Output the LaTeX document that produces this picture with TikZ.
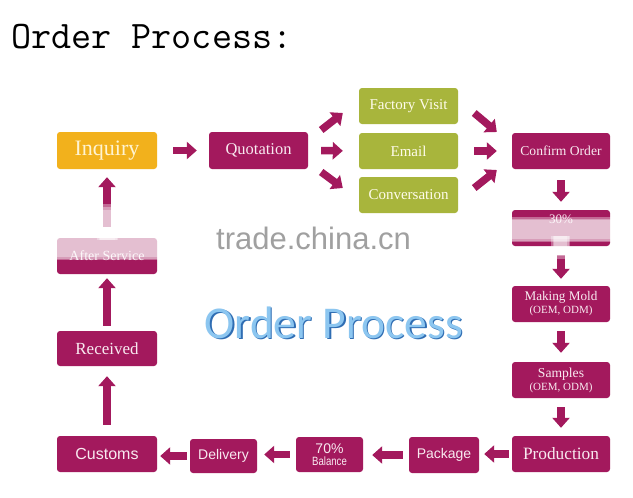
\documentclass[tikz,border=0pt]{standalone}
\usepackage{fontspec}
\setmainfont{Liberation Serif}
\setsansfont{Liberation Sans}
\newfontfamily\wmfont{Carlito}
\usetikzlibrary{arrows.meta}
\definecolor{mag}{HTML}{A3195D}
\definecolor{orng}{HTML}{F2B11C}
\definecolor{olv}{HTML}{A8B53C}
\definecolor{txtm}{HTML}{F8EAF0}
\definecolor{cream}{HTML}{FFFCEB}
\definecolor{inqtxt}{HTML}{FFF4D2}
\definecolor{wmgray}{HTML}{A0A0A0}
\definecolor{bluedk}{HTML}{2F6DB3}
\definecolor{bluelt}{HTML}{8CC6F0}
\tikzset{
  box/.style={rectangle, rounded corners=3pt, fill=mag, text=txtm, inner sep=0pt,
    minimum width=98pt, minimum height=36pt, align=center,
    font=\fontsize{15}{16}\selectfont},
  gbox/.style={box, fill=olv, text=cream},
  sbox/.style={box, font=\sffamily\fontsize{14}{15}\selectfont},
  blk/.style={draw=mag, line width=7.5pt, -{Triangle[length=10pt,width=17pt]}},
  fog/.style={fill=white, draw=none, opacity=0.35},
}
\begin{document}
\begin{tikzpicture}[x=1pt,y=1pt]
\path[use as bounding box, fill=white] (0,0) rectangle (633,-498);

% title
\node[anchor=base west, inner sep=0pt, font=\ttfamily\fontsize{39}{40}\selectfont] (title) at (11,-48) {Order Process:};

% top row
\node[box, fill=orng, text=inqtxt, minimum width=100pt, minimum height=37pt,
  font=\fontsize{22}{22}\selectfont] (inq) at (107,-150.5) {Inquiry};
\node[box, minimum width=99pt, minimum height=37pt, font=\fontsize{16.5}{17}\selectfont] (quo) at (258.5,-150.5) {Quotation};
\node[gbox, minimum width=99pt] (fv) at (408.5,-106) {Factory Visit};
\node[gbox, minimum width=99pt] (em) at (408.5,-151) {Email};
\node[gbox, minimum width=99pt] (conv) at (408.5,-195) {Conversation};
\node[box, font=\fontsize{13.6}{14}\selectfont] (co) at (561,-151) {Confirm Order};

% right column
\node[box] (p30) at (561,-228) {};
\node[inner sep=0pt, text=txtm, font=\fontsize{13}{13}\selectfont] (p30t) at (561,-219) {30\%};
\node[box, font=\fontsize{13.2}{14}\selectfont] (mold) at (561,-304) {Making Mold\\[-1pt]{\fontsize{11}{12}\selectfont (OEM, ODM)}};
\node[box, font=\fontsize{13.6}{14}\selectfont] (samp) at (561,-380) {Samples\\[-1pt]{\fontsize{11}{12}\selectfont (OEM, ODM)}};
\node[box, font=\fontsize{17.3}{18}\selectfont] (prod) at (561,-454) {Production};

% bottom row
\node[sbox, minimum width=70pt] (pack) at (444,-455) {Package};
\node[sbox, minimum width=67pt, minimum height=35pt] (bal) at (329.5,-454.5)
  {{\fontsize{14}{13}\selectfont 70\%}\\[-3pt]{\fontsize{12}{12}\selectfont\scalebox{0.8}[1]{Balance}}};
\node[sbox, minimum width=67pt, minimum height=34pt] (del) at (223.5,-456) {Delivery};
\node[sbox, minimum width=100pt, font=\sffamily\fontsize{16}{16}\selectfont] (cust) at (107,-454) {Customs};

% left column
\node[box, minimum width=100pt, minimum height=35pt, font=\fontsize{17}{17}\selectfont] (rec) at (107,-348.5) {Received};
\node[box, minimum width=100pt, font=\fontsize{14}{14}\selectfont] (aft) at (107,-256) {After Service};

% arrows: top row
\draw[blk, shorten <=16pt, shorten >=12pt] (inq) -- (quo);
\draw[blk] ([shift={(13pt,20.5pt)}]quo.east) -- ([shift={(-16pt,-7pt)}]fv.west);
\draw[blk, shorten <=13pt, shorten >=16pt] (quo.east) -- (em.west);
\draw[blk] ([shift={(13pt,-21.5pt)}]quo.east) -- ([shift={(-16pt,7pt)}]conv.west);
\draw[blk] ([shift={(16pt,-7pt)}]fv.east) -- ([shift={(-15pt,19pt)}]co.west);
\draw[blk, shorten <=16pt, shorten >=15pt] (em.east) -- (co.west);
\draw[blk] ([shift={(16pt,7pt)}]conv.east) -- ([shift={(-15pt,-19pt)}]co.west);

% arrows: right column
\draw[blk, shorten <=11pt, shorten >=8pt] (co.south) -- (p30.north);
\draw[blk, shorten <=9pt, shorten >=7pt] (p30.south) -- (mold.north);
\draw[blk, shorten <=9pt, shorten >=9pt] (mold.south) -- (samp.north);
\draw[blk, shorten <=9pt, shorten >=8pt] (samp.south) -- (prod.north);

% arrows: bottom row
\draw[blk, shorten <=3pt, shorten >=5pt] (prod.west) -- (prod.west -| pack.east);
\draw[blk, shorten <=6pt, shorten >=9pt] (pack.west) -- (pack.west -| bal.east);
\draw[blk, shorten <=6pt, shorten >=7pt] (bal.west) -- (bal.west -| del.east);
\draw[blk, shorten <=3pt, shorten >=3pt] (del.west) -- (del.west -| cust.east);

% arrows: left column
\draw[blk, shorten <=11pt, shorten >=10pt] (cust.north) -- (rec.south);
\draw[blk, shorten <=5pt, shorten >=4pt] (rec.north) -- (aft.south);
\draw[blk, shorten <=11pt, shorten >=8pt] (aft.north) -- (inq.south);

% blurred overlays (soft, stacked)
\foreach \d in {0,3,6}{
  \fill[fog] (486+\d,-217-\d/2) rectangle (626-\d,-242+\d/2);
  \fill[fog] (551+\d/2,-236) rectangle (570-\d/2,-259+\d);
  \fill[fog] (41+\d,-235-\d/2) rectangle (168-\d,-260+\d/2);
  \fill[fog] (97+\d/2,-210+\d) rectangle (118-\d/2,-240);
}

% watermark texts
\node[anchor=base west, inner sep=0pt, text=wmgray, font=\sffamily\fontsize{31}{31}\selectfont] (wm) at (216,-249) {trade.china.cn};
\node[anchor=base west, inner sep=0pt, text=bluedk, font=\wmfont\fontsize{45.5}{46}\selectfont] (optsh) at (205.8,-339.2) {Order Process};
\node[anchor=base west, inner sep=0pt, text=bluelt, font=\wmfont\fontsize{45.5}{46}\selectfont] (opt) at (204.5,-338) {Order Process};
\end{tikzpicture}
\end{document}
